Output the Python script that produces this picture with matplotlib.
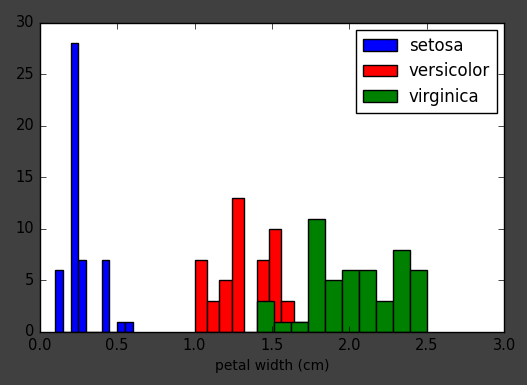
import matplotlib
matplotlib.use("Agg")
import matplotlib.pyplot as plt

plt.style.use('classic')

species = ["setosa", "versicolor", "virginica"]
colors = ["blue", "red", "green"]

setosa_edges = [0.10, 0.15, 0.20, 0.25, 0.30, 0.35, 0.40, 0.45, 0.50, 0.55, 0.60]
setosa_counts = [6, 0, 28, 7, 0, 0, 7, 0, 1, 1]

versicolor_edges = [1.00, 1.08, 1.16, 1.24, 1.32, 1.40, 1.48, 1.56, 1.64, 1.72, 1.80]
versicolor_counts = [7, 3, 5, 13, 0, 7, 10, 3, 1, 1]

virginica_edges = [1.40, 1.51, 1.62, 1.73, 1.84, 1.95, 2.06, 2.17, 2.28, 2.39, 2.50]
virginica_counts = [3, 1, 1, 11, 5, 6, 6, 3, 8, 6]

xlabel = "petal width (cm)"

fig = plt.figure(figsize=(5.27, 3.85), dpi=100, facecolor="#404040")
ax = fig.add_axes([0.0753, 0.1377, 0.957 - 0.0753, 0.941 - 0.1377])

for edges, counts, c, name in zip(
        [setosa_edges, versicolor_edges, virginica_edges],
        [setosa_counts, versicolor_counts, virginica_counts],
        colors, species):
    centers = [(a + b) / 2 for a, b in zip(edges[:-1], edges[1:])]
    ax.hist(centers, bins=edges, weights=counts, color=c, label=name,
            edgecolor="black", linewidth=1)

ax.set_xlim(0, 3.0)
ax.set_ylim(0, 30)
ax.set_xticks([0.0, 0.5, 1.0, 1.5, 2.0, 2.5, 3.0])
ax.set_yticks([0, 5, 10, 15, 20, 25, 30])
ax.tick_params(labelsize=10.5, colors="black")
ax.set_xlabel(xlabel, fontsize=10)
leg = ax.legend(loc="upper right", fontsize=12, handlelength=2.05, borderpad=0.4,
                labelspacing=0.45, handletextpad=0.7, borderaxespad=0.45)

fig.savefig("out.png", dpi=100, facecolor=fig.get_facecolor())
